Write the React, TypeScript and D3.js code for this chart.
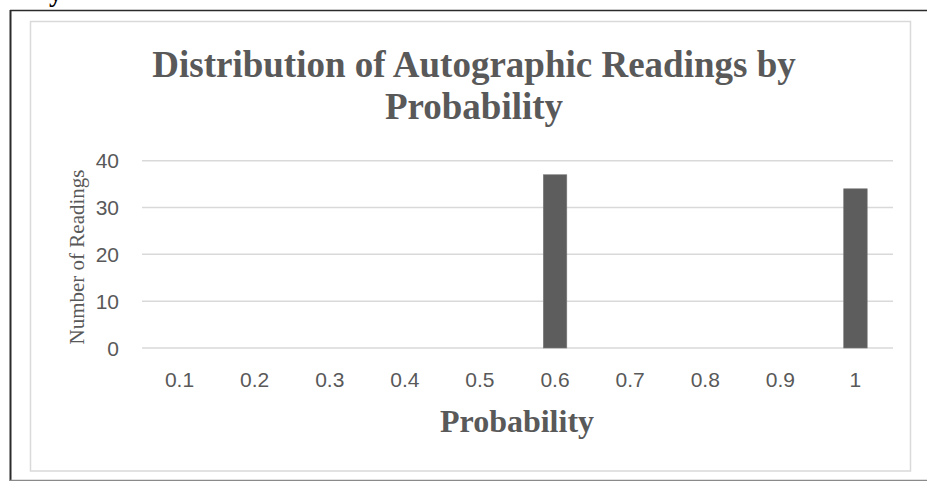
import React, { useEffect, useRef } from "react";
import * as d3 from "d3";

const categories: string[] = ["0.1", "0.2", "0.3", "0.4", "0.5", "0.6", "0.7", "0.8", "0.9", "1"];
const counts: number[] = [0, 0, 0, 0, 0, 37, 0, 0, 0, 34];
const yTicks: number[] = [0, 10, 20, 30, 40];
const titleLines: string[] = ["Distribution of Autographic Readings by", "Probability"];
const xTitle = "Probability";
const yTitle = "Number of Readings";

const W = 927;
const H = 481;

export default function App() {
  const ref = useRef<SVGSVGElement | null>(null);

  useEffect(() => {
    const svg = d3.select(ref.current);
    svg.selectAll("*").remove();

    // page frame lines
    svg.append("line").attr("x1", 10).attr("x2", W).attr("y1", 10.5).attr("y2", 10.5)
      .attr("stroke", "#2b2b2b").attr("stroke-width", 1.5);
    svg.append("line").attr("x1", 10.5).attr("x2", 10.5).attr("y1", 10).attr("y2", H)
      .attr("stroke", "#2b2b2b").attr("stroke-width", 2);
    svg.append("line").attr("x1", 10).attr("x2", W).attr("y1", 480.5).attr("y2", 480.5)
      .attr("stroke", "#8a8a8a").attr("stroke-width", 1.5);
    // cut-off glyph from text above (as in the reference)
    svg.append("text").attr("x", 49).attr("y", 0.5).attr("font-family", "Liberation Serif, serif")
      .attr("font-weight", "bold").attr("font-size", 27).attr("fill", "#000").text("y");

    // chart area border
    svg.append("rect").attr("x", 30.5).attr("y", 21.5).attr("width", 880).attr("height", 449.5)
      .attr("fill", "#fff").attr("stroke", "#d9d9d9").attr("stroke-width", 1.5);

    const band = d3.scaleBand<string>().domain(categories).range([142, 893]);
    const y = d3.scaleLinear().domain([0, 40]).range([348, 160.7]);

    // gridlines
    svg.append("g").selectAll("line").data(yTicks).join("line")
      .attr("x1", 142).attr("x2", 893)
      .attr("y1", (d) => y(d)).attr("y2", (d) => y(d))
      .attr("stroke", "#d9d9d9").attr("stroke-width", 1.5);

    // y tick labels
    svg.append("g").selectAll("text").data(yTicks).join("text")
      .attr("x", 119).attr("y", (d) => y(d)).attr("dy", "0.36em")
      .attr("text-anchor", "end").attr("font-family", "Liberation Sans, Arial, sans-serif")
      .attr("font-size", 21).attr("fill", "#595959").text((d) => String(d));

    // bars
    const bw = 23.5;
    svg.append("g").selectAll("rect").data(categories.map((c, i) => ({ c, v: counts[i] })).filter((d) => d.v > 0))
      .join("rect")
      .attr("x", (d) => (band(d.c) as number) + band.bandwidth() / 2 - bw / 2)
      .attr("y", (d) => y(d.v))
      .attr("width", bw)
      .attr("height", (d) => y(0) - y(d.v))
      .attr("fill", "#5d5d5d").attr("stroke", "#7a7a7a").attr("stroke-width", 0.6);

    // x tick labels
    svg.append("g").selectAll("text").data(categories).join("text")
      .attr("x", (d) => (band(d) as number) + band.bandwidth() / 2).attr("y", 386.5)
      .attr("text-anchor", "middle").attr("font-family", "Liberation Sans, Arial, sans-serif")
      .attr("font-size", 21).attr("fill", "#595959").text((d) => d);

    // title
    svg.append("g").selectAll("text").data(titleLines).join("text")
      .attr("x", 474).attr("y", (_d, i) => 76.5 + i * 42.5)
      .attr("text-anchor", "middle").attr("font-family", "Liberation Serif, Times New Roman, serif")
      .attr("font-weight", "bold").attr("font-size", 37).attr("fill", "#595959").text((d) => d);

    // x title
    svg.append("text").attr("x", 517).attr("y", 431.5).attr("text-anchor", "middle")
      .attr("font-family", "Liberation Serif, Times New Roman, serif").attr("font-weight", "bold")
      .attr("font-size", 32).attr("fill", "#595959").text(xTitle);

    // y title
    svg.append("text").attr("transform", "translate(84,257) rotate(-90)").attr("text-anchor", "middle")
      .attr("font-family", "Liberation Serif, Times New Roman, serif")
      .attr("font-size", 21).attr("fill", "#595959").text(yTitle);
  }, []);

  return (
    <svg ref={ref} width={W} height={H} style={{ position: "absolute", left: 0, top: 0, background: "#fff" }} />
  );
}
